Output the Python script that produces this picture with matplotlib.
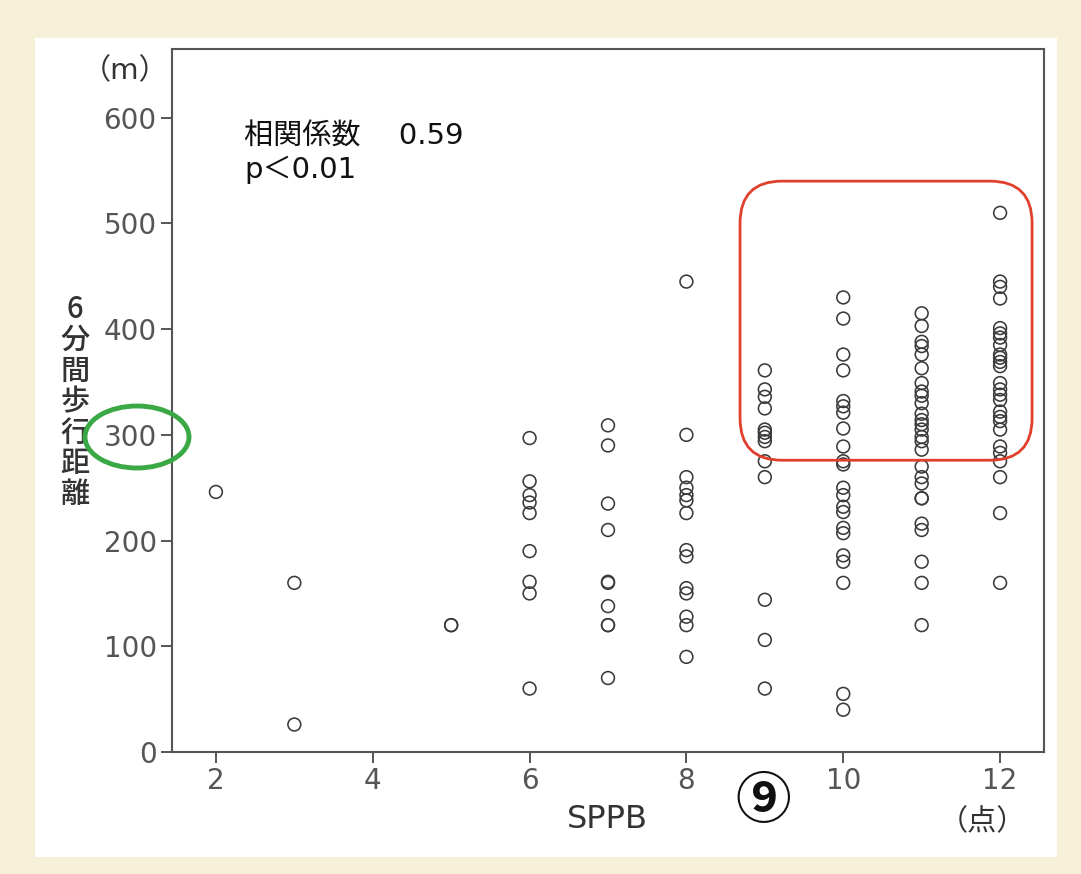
import matplotlib
matplotlib.use("Agg")
import matplotlib.pyplot as plt
from matplotlib.patches import FancyBboxPatch, Ellipse, Rectangle

plt.rcParams['font.family'] = ['Noto Sans CJK JP', 'DejaVu Sans']
LATIN_FIRST = ['DejaVu Sans', 'Noto Sans CJK JP']

# SPPB score -> 6 minute walk distance (m)
dist_2 = [246]
dist_3 = [160, 26]
dist_5 = [120, 120]
dist_6 = [297, 256, 243, 236, 226, 190, 161, 150, 60]
dist_7 = [309, 290, 235, 210, 161, 160, 138, 120, 120, 70]
dist_8 = [445, 300, 260, 250, 243, 238, 226, 191, 185, 155, 150, 128, 120, 90]
dist_9 = [361, 343, 336, 325, 305, 302, 298, 294, 275, 260, 144, 106, 60]
dist_10 = [430, 410, 376, 361, 332, 327, 321, 306, 289, 275, 272, 250, 243,
           232, 227, 212, 207, 186, 180, 160, 55, 40]
dist_11 = [415, 403, 388, 384, 376, 363, 349, 341, 337, 330, 320, 314, 310,
           305, 298, 294, 286, 270, 260, 254, 240, 240, 216, 210, 180, 160, 120]
dist_12 = [510, 445, 440, 429, 401, 396, 392, 385, 376, 373, 369, 365, 349,
           343, 338, 333, 322, 317, 313, 305, 289, 283, 275, 260, 226, 160]

scores = [2, 3, 5, 6, 7, 8, 9, 10, 11, 12]
columns = [dist_2, dist_3, dist_5, dist_6, dist_7, dist_8, dist_9,
           dist_10, dist_11, dist_12]

x_ticks = [2, 4, 6, 8, 10, 12]
y_ticks = [0, 100, 200, 300, 400, 500, 600]

W, H = 1081, 874
fig = plt.figure(figsize=(W / 100, H / 100), dpi=100)
fig.patch.set_facecolor('#f6f0d8')

# white panel behind everything
fig.patches.append(Rectangle((35 / W, 1 - 857 / H), 1022 / W, 819 / H,
                             transform=fig.transFigure, facecolor='white',
                             edgecolor='none', zorder=-10))

ax = fig.add_axes([172 / W, 1 - 752 / H, 872 / W, 703 / H])
ax.set_facecolor('white')

xs, ys = [], []
for s, col in zip(scores, columns):
    xs += [s] * len(col)
    ys += col
ax.scatter(xs, ys, s=85, facecolors='none', edgecolors='#3a3a3a',
           linewidths=1.15, zorder=3)

ax.set_xlim(1.44, 12.56)
ax.set_ylim(0, 665)
ax.set_xticks(x_ticks)
ax.set_yticks(y_ticks)
ax.tick_params(direction='out', length=8, width=1.4, color='#555555',
               labelcolor='#555555', labelsize=20, pad=3)
for lab in ax.get_xticklabels() + ax.get_yticklabels():
    lab.set_family(LATIN_FIRST)
for sp in ax.spines.values():
    sp.set_color('#555555')
    sp.set_linewidth(1.5)

ax.text(0.083, 0.895, '相関係数\u3000 0.59\np＜0.01', transform=ax.transAxes,
        fontsize=21, va='top', ha='left', color='#111111', linespacing=1.2,
        family=LATIN_FIRST)

# labels around the axes
fig.text(125 / W, 1 - 71 / H, '（m）', fontsize=21, ha='center', va='center',
         color='#333333', family=LATIN_FIRST)
fig.text(75 / W, 1 - 402 / H, '6\n分\n間\n歩\n行\n距\n離', fontsize=21,
         ha='center', va='center', color='#333333', linespacing=1.0,
         fontweight='medium')
fig.text(607 / W, 1 - 820 / H, 'SPPB', fontsize=23, ha='center', va='center',
         color='#333333', family=LATIN_FIRST)
fig.text(763 / W, 1 - 802 / H, '⑨', fontsize=40, ha='center', va='center',
         color='#111111', fontweight='semibold')
fig.text(982 / W, 1 - 822 / H, '（点）', fontsize=21, ha='center', va='center',
         color='#333333')

# red rounded box around the high scorers
to_fig = ax.transData + fig.transFigure.inverted()
(x0, y0) = to_fig.transform((8.684, 276))
(x1, y1) = to_fig.transform((12.408, 540))
red = FancyBboxPatch((x0, y0), x1 - x0, y1 - y0,
                     boxstyle='round,pad=0,rounding_size=%f' % (42 / W),
                     mutation_aspect=W / H, transform=fig.transFigure,
                     facecolor='none', edgecolor='#e0402c', linewidth=2.0,
                     zorder=5)
fig.patches.append(red)

# green ellipse around the 300 label
green = Ellipse((137 / W, 1 - 437 / H), 104 / W, 62 / H,
                transform=fig.transFigure, facecolor='none',
                edgecolor='#3aa845', linewidth=3.5, zorder=5)
fig.patches.append(green)

fig.savefig('out.png', dpi=100)
